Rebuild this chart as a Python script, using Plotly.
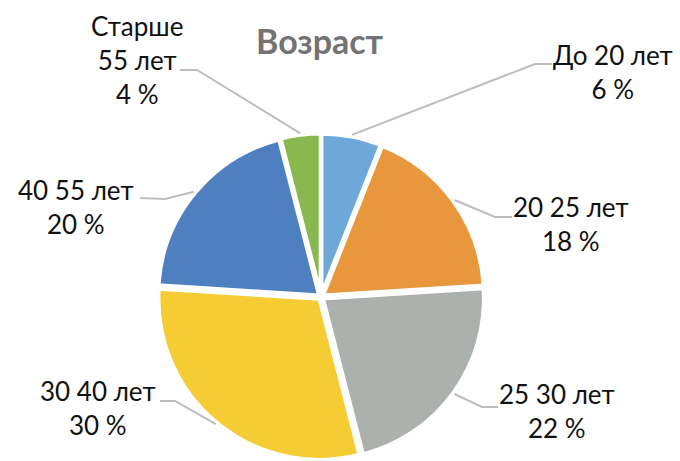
import math
import plotly.graph_objects as go

# ---- data ----
categories = ["До 20 лет", "20 25 лет", "25 30 лет", "30 40 лет", "40 55 лет", "Старше 55 лет"]
label_lines = ["До 20 лет", "20 25 лет", "25 30 лет", "30 40 лет", "40 55 лет", "Старше<br>55 лет"]
values = [6, 18, 22, 30, 20, 4]
title_text = "Возраст"

# ---- style ----
colors = ["#6EA8D8", "#E8973D", "#ADB1AE", "#F5CC33", "#4E7FC1", "#88B84E"]
W, H = 680, 461
CX, CY, R = 321, 297, 161          # pie centre / radius in pixels (layout)
PULL = 0.015
label_pos = [(613, 72), (571, 224), (557, 411), (98, 408), (76, 207), (137, 60)]
# elbow and end of each leader line (pixels)
leader = [((535, 64), (552, 64)), ((495, 217), (512, 217)), ((482, 407), (498, 407)),
          ((175, 401), (160, 401)), ((165, 199), (140, 198)), ((197, 70), (180, 70))]
FONT = "Lato"

def px(x, y):
    return x / W, 1 - y / H

half = R * (1 + PULL)
fig = go.Figure(go.Pie(
    labels=categories, values=values, sort=False, direction="clockwise", rotation=0,
    marker=dict(colors=colors, line=dict(color="white", width=4)),
    textinfo="none", hoverinfo="label+percent", showlegend=False,
    pull=[PULL] * len(values),
    domain=dict(x=[(CX - half) / W, (CX + half) / W],
                y=[max(0, (H - CY - half) / H), (H - CY + half) / H]),
))

total = sum(values)
cum = 0
shapes, annotations = [], []
for i, v in enumerate(values):
    f = (cum + v / 2) / total
    cum += v
    th = 2 * math.pi * f
    sx, sy = CX + (R + 4) * math.sin(th), CY - (R + 4) * math.cos(th)
    (ex, ey), (tx, ty) = leader[i]
    p0, p1, p2 = px(sx, sy), px(ex, ey), px(tx, ty)
    shapes.append(dict(type="path", xref="paper", yref="paper",
                       path=f"M {p0[0]} {p0[1]} L {p1[0]} {p1[1]} L {p2[0]} {p2[1]}",
                       line=dict(color="#BDBDBD", width=2)))
    lx, ly = px(*label_pos[i])
    annotations.append(dict(x=lx, y=ly, xref="paper", yref="paper", showarrow=False,
                            text=f"{label_lines[i]}<br>{round(v / total * 100)} %",
                            xanchor="center", yanchor="middle", align="center",
                            font=dict(family=FONT, size=26, color="#111111")))

tx, ty = px(320, 41)
annotations.append(dict(x=tx, y=ty, xref="paper", yref="paper", showarrow=False,
                        text=f"<b>{title_text}</b>", xanchor="center", yanchor="middle",
                        font=dict(family=FONT, size=34, color="#737373")))

fig.update_layout(width=W, height=H, margin=dict(l=0, r=0, t=0, b=0),
                  paper_bgcolor="white", plot_bgcolor="white",
                  shapes=shapes, annotations=annotations)
fig.write_html("out.html", config={"displayModeBar": False},
               post_script="document.body.style.margin='0';")
